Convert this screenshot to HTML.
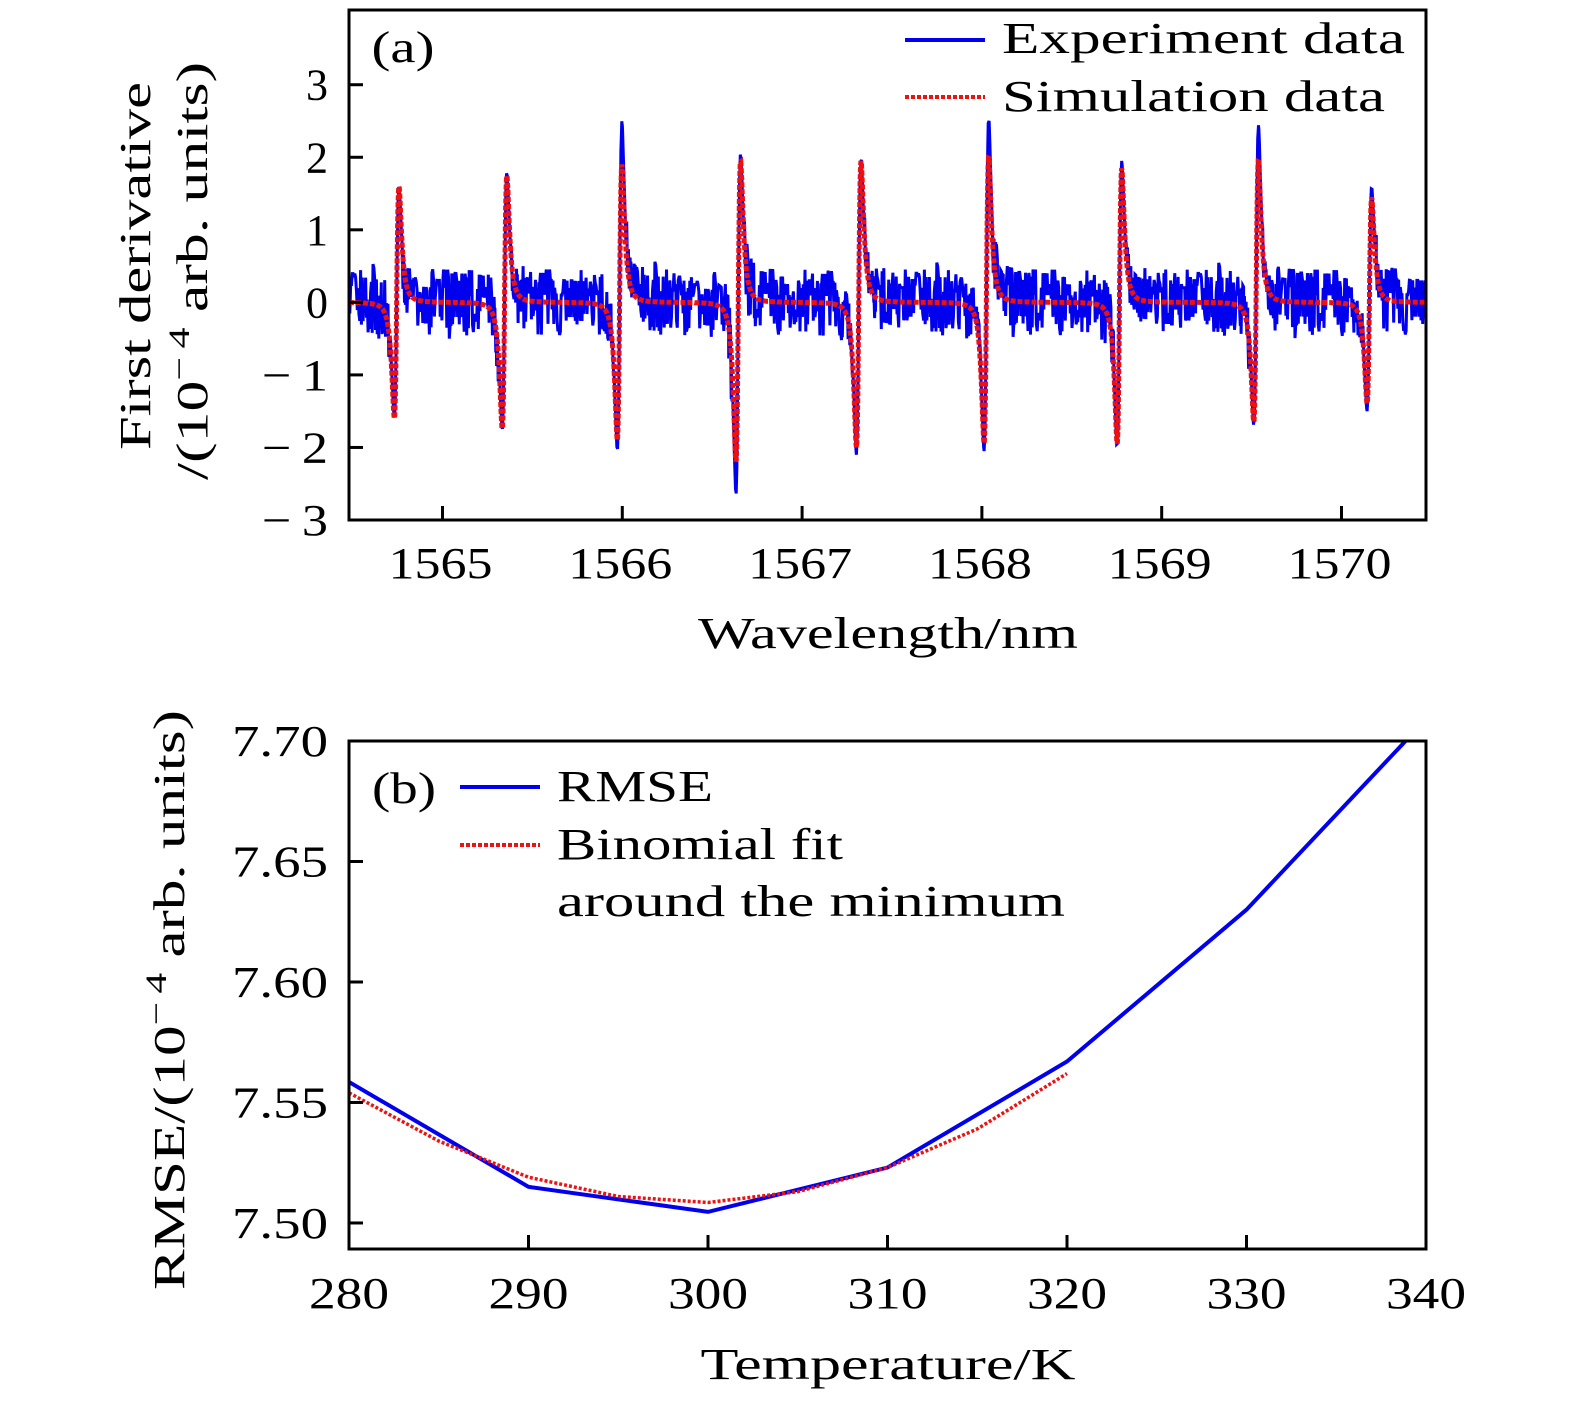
<!DOCTYPE html>
<html><head><meta charset="utf-8"><style>
html,body{margin:0;padding:0;background:#fff}
svg{display:block}
text{font-family:"Liberation Serif",serif;fill:#000}
</style></head><body>
<svg id="fig" width="1575" height="1407" viewBox="0 0 1575 1407" xmlns="http://www.w3.org/2000/svg">
<g id="pa"></g>
<g id="pb"></g>
</svg>
<script>
// ---------- Panel (a) data ----------
const peakCenters = [1564.745,1565.345,1565.985,1566.645,1567.315,1568.025,1568.765,1569.525,1570.155];
const simPos = [1.6,1.75,1.9,1.95,1.95,2.0,1.85,1.95,1.45];
const simNeg = [1.6,1.75,1.9,2.2,2.0,1.95,1.95,1.65,1.4];
const expPos = [1.6,1.8,2.5,2.05,2.0,2.55,1.95,2.45,1.6];
const expNeg = [1.6,1.75,2.05,2.65,2.1,2.05,2.0,1.7,1.5];
const noise = [0.3,-0.2,0.1,0.35,-0.3,0.2,-0.1,0.45,-0.25,0.15,0.25,-0.35,0.05,0.4,-0.15,0.3,-0.4,0.2,0.1,-0.2,
0.35,-0.3,0.25,-0.05,0.3,-0.45,0.15,0.2,-0.3,0.4,-0.1,0.25,-0.35,0.1,0.3,-0.2,0.45,-0.15,0.05,0.3,
-0.3,0.2,0.35,-0.4,0.1,0.25,-0.25,0.4,-0.1,0.15,0.3,-0.35,0.2,0.55,-0.2,0.1,0.3,-0.5,0.25,0.05,
0.35,-0.3,0.15,0.3,-0.25,0.45,-0.1,0.2,-0.4,0.3,0.1,-0.2,0.4,-0.3,0.25,0.05,-0.35,0.3,0.15,-0.15,
0.4,-0.25,0.2,0.35,-0.45,0.1,0.3,-0.2,0.25,-0.35,0.5,-0.1,0.15,0.3,-0.3,0.2,0.45,-0.2,0.1,-0.4,
0.3,0.25,-0.3,0.4,-0.15,0.2,0.35,-0.25,0.05,0.3,-0.4,0.25,0.15,-0.2,0.45,-0.3,0.1,0.3,-0.15,0.2,
-0.35,0.4,0.1,-0.25,0.3,0.2,-0.45,0.35,-0.1,0.25,0.15,-0.3,0.4,-0.2,0.05,0.3,-0.35,0.2,0.45,-0.15,
0.3,-0.25,0.1,0.35,-0.4,0.2,0.25,-0.2,0.4,-0.3,0.15,0.3,-0.1,0.2,-0.45,0.35,0.1,-0.25,0.3,-0.15,
0.45,-0.3,0.2,0.1,-0.35,0.3,0.25,-0.2,0.4,-0.1,0.15,-0.4,0.3,0.2,-0.25,0.35,-0.3,0.1,0.45,-0.2,
0.25,-0.35,0.3,0.15,-0.15,0.4,-0.25,0.2,0.3,-0.45,0.1,0.35,-0.2,0.25,-0.3,0.4,0.05,-0.25,0.3,0.2,
-0.4,0.35,-0.1,0.25,0.3,-0.3,0.15,0.45,-0.2,0.1,-0.35,0.3,0.2,-0.15,0.4,-0.3,0.25,0.1,-0.45,0.3,
0.15,-0.2,0.35,-0.25,0.4,-0.1,0.2,0.3,-0.35,0.25,-0.15,0.45,0.1,-0.3,0.3,-0.2,0.2,0.35,-0.4,0.15,
0.3,-0.25,0.4,-0.1,0.25,-0.35,0.2,0.3,-0.2,0.45,-0.3,0.1,0.35,-0.15,0.25,-0.4,0.3,0.2,-0.25,0.4,
-0.1,0.15,0.3,-0.35,0.25,0.45,-0.2,0.1,-0.3,0.35,0.2,-0.15,0.4,-0.25,0.3,0.05,-0.45,0.25,0.3,-0.2,
0.35,-0.3,0.15,0.4,-0.1,0.2,-0.35,0.3,0.25,-0.25,0.45,-0.15,0.1,0.3,-0.4,0.2,0.35,-0.2,0.25,-0.3,
0.4,-0.1,0.15,0.3,-0.35,0.2,0.45,-0.25,0.1,0.3,-0.2,0.35,-0.45,0.25,0.15,-0.3,0.4,-0.15,0.2,0.3,
-0.25,0.35,-0.1,0.45,-0.3,0.2,0.25,-0.4,0.3,0.1,-0.2,0.4,-0.35,0.15,0.3,-0.25,0.2,0.45,-0.3,0.1];
const aYTicks = [3,2,1,0,-1,-2,-3];
const aXTicks = [1565,1566,1567,1568,1569,1570];

// ---------- Panel (b) data ----------
const tempK = [280,290,300,310,320,330,340];
const rmse = [7.5585,7.515,7.5046,7.523,7.567,7.630,7.709];
const fitK = [280,285,290,295,300,305,310,315,320];
const fitV = [7.554,7.534,7.519,7.511,7.5085,7.513,7.523,7.539,7.562];
const bYTicks = [7.50,7.55,7.60,7.65,7.70];
const bXTicks = [280,290,300,310,320,330,340];

const NS="http://www.w3.org/2000/svg";
function mk(parent,tag,attrs){const e=document.createElementNS(NS,tag);for(const k in attrs)e.setAttribute(k,attrs[k]);parent.appendChild(e);return e;}
function txt(parent,x,y,s,size,anchor,len){const t=mk(parent,'text',{x:x,y:y,'font-size':size,'text-anchor':anchor||'middle'});t.textContent=s;if(len){t.setAttribute('textLength',len);t.setAttribute('lengthAdjust','spacingAndGlyphs');}return t;}

function yTitle(g,cx,cy,pre,len,name){
 const t=mk(g,'text',{transform:'translate('+cx+','+cy+') rotate(-90)','font-size':44,'text-anchor':'middle',textLength:len,lengthAdjust:'spacingAndGlyphs'});
 if(pre===null){t.textContent='First derivative';}
 else{t.appendChild(document.createTextNode(pre+'(10'));
  const s=mk(t,'tspan',{'font-size':30,dy:-18});s.textContent='\u2212\u20094';
  const r=mk(t,'tspan',{dy:18});r.textContent=' arb. units)';}
 
 
 return t;
}

// ===== Panel A =====
(function(){
const g=document.getElementById('pa');
const L=349,R=1426,T=10,B=520;
const x0=1564.48,x1=1570.47,y0=-3,y1=4.03;
const X=v=>L+(v-x0)/(x1-x0)*(R-L);
const Y=v=>B-(v-y0)/(y1-y0)*(B-T);
const W=0.022;
function prof(x,i,pos,neg){const u=(x-peakCenters[i])/W;const f=2*u/Math.pow(1+u*u,2)/0.6495;return f>0?f*pos[i]:f*neg[i];}
function sim(x,pos,neg){let s=0;for(let i=0;i<peakCenters.length;i++)s+=prof(x,i,pos,neg);return s;}
const clip=mk(g,'clipPath',{id:'ca'});mk(clip,'rect',{x:L,y:T,width:R-L,height:B-T});
const N=noise.length, M=1300;
let xs=[];for(let i=0;i<M;i++)xs.push({x:x0+(x1-x0)*i/(M-1),n:noise[(i*37)%N]});
for(let i=0;i<peakCenters.length;i++)for(let k=-12;k<=12;k++)xs.push({x:peakCenters[i]+k*W*0.35,n:0});
xs.sort((a,b)=>a.x-b.x);
let pts=[];
for(const p of xs){let d=1e9;for(const c of peakCenters)d=Math.min(d,Math.abs(p.x-c));const nz=d<W*1.5?0:p.n;
 pts.push(X(p.x).toFixed(1)+','+Y(sim(p.x,expPos,expNeg)+nz).toFixed(1));}
const e=mk(g,'polyline',{points:pts.join(' '),fill:'none',stroke:'#0000ee','stroke-width':3,'clip-path':'url(#ca)'});


let sp=[];for(let i=0;i<=2400;i++){const x=x0+(x1-x0)*i/2400;sp.push(X(x).toFixed(1)+','+Y(sim(x,simPos,simNeg)).toFixed(1));}
const s=mk(g,'polyline',{points:sp.join(' '),fill:'none',stroke:'#ee1111','stroke-width':5,'stroke-dasharray':'5 2','clip-path':'url(#ca)'});


const ax=mk(g,'rect',{x:L,y:T,width:R-L,height:B-T,fill:'none',stroke:'#000','stroke-width':3});


for(const v of aYTicks){mk(g,'line',{x1:L,x2:L+14,y1:Y(v),y2:Y(v),stroke:'#000','stroke-width':3});
 let t;
 if(v<0){t=txt(g,328,Y(v)+15,'\u2212\u2009'+Math.abs(v),44,'end',66);} else {t=txt(g,328,Y(v)+15,String(v),44,'end',22);}
 }
for(const v of aXTicks){mk(g,'line',{x1:X(v),x2:X(v),y1:B,y2:B-14,stroke:'#000','stroke-width':3});
 const t=txt(g,X(v)-2,578,String(v),44,'middle',104);}
const xt=txt(g,888,648,'Wavelength/nm',44,'middle',380);
yTitle(g,150,266,null,368,'y-axis-title');
yTitle(g,207,271,'/',418,'y-axis-units');
const pl=txt(g,403,62,'(a)',44,'middle',63);
const l1=mk(g,'line',{x1:905,x2:985,y1:40,y2:40,stroke:'#0000ee','stroke-width':4});
const lt1=txt(g,1002,53,'Experiment data',44,'start',403);
const l2=mk(g,'line',{x1:905,x2:985,y1:97,y2:97,stroke:'#ee1111','stroke-width':4,'stroke-dasharray':'4 2'});
const lt2=txt(g,1002,111,'Simulation data',44,'start',383);
})();

// ===== Panel B =====
(function(){
const g=document.getElementById('pb');
const L=349,R=1426,T=741,B=1249;
const x0=280,x1=340,y0=7.4892,y1=7.70;
const X=v=>L+(v-x0)/(x1-x0)*(R-L);
const Y=v=>B-(v-y0)/(y1-y0)*(B-T);
const clip=mk(g,'clipPath',{id:'cb'});mk(clip,'rect',{x:L,y:T,width:R-L,height:B-T});
const r=mk(g,'polyline',{points:tempK.map((t,i)=>X(t)+','+Y(rmse[i])).join(' '),fill:'none',stroke:'#0000ee','stroke-width':4,'clip-path':'url(#cb)'});


const f=mk(g,'polyline',{points:fitK.map((t,i)=>X(t)+','+Y(fitV[i])).join(' '),fill:'none',stroke:'#ee1111','stroke-width':3.5,'stroke-dasharray':'3 2','clip-path':'url(#cb)'});


const ax=mk(g,'rect',{x:L,y:T,width:R-L,height:B-T,fill:'none',stroke:'#000','stroke-width':3});


for(const v of bYTicks){mk(g,'line',{x1:L,x2:L+14,y1:Y(v),y2:Y(v),stroke:'#000','stroke-width':3});
 const t=txt(g,328,Y(v)+15,v.toFixed(2),44,'end',96);}
for(const v of bXTicks){mk(g,'line',{x1:X(v),x2:X(v),y1:B,y2:B-14,stroke:'#000','stroke-width':3});
 const t=txt(g,X(v),1308,String(v),44,'middle',80);}
const xt=txt(g,888,1379,'Temperature/K',44,'middle',375);
yTitle(g,184,1000,'RMSE/',580,'y-axis-title');
const pl=txt(g,404,803,'(b)',44,'middle',64);
const l1=mk(g,'line',{x1:460,x2:540,y1:787,y2:787,stroke:'#0000ee','stroke-width':4});
const lt1=txt(g,557,801,'RMSE',44,'start',156);
const l2=mk(g,'line',{x1:460,x2:540,y1:845,y2:845,stroke:'#ee1111','stroke-width':4,'stroke-dasharray':'4 2'});
const lt2=txt(g,557,859,'Binomial fit',44,'start',286);
const lt3=txt(g,557,916,'around the minimum',44,'start',508);
})();
</script>
</body></html>
